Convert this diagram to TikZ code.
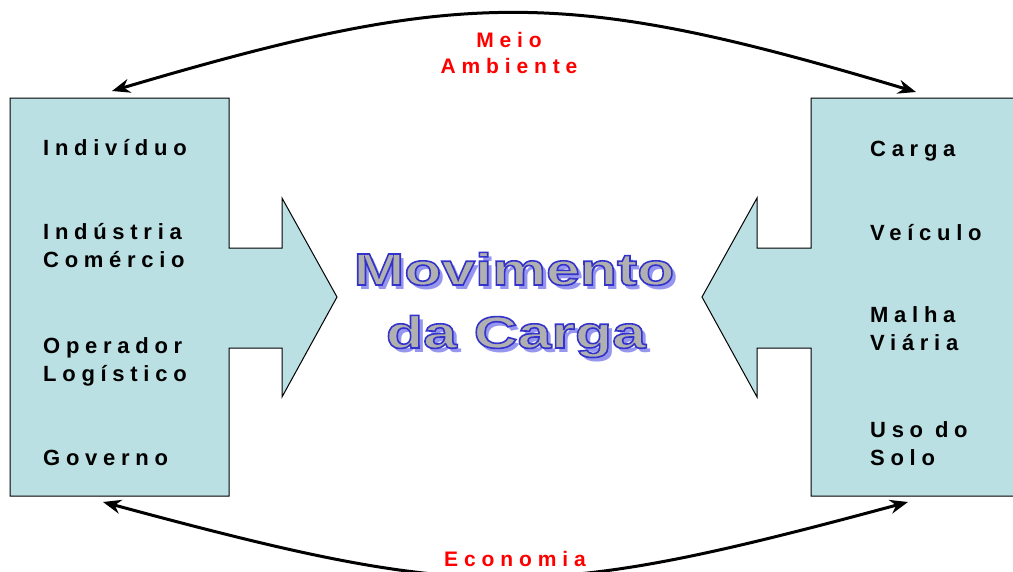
\documentclass[tikz,border=0pt]{standalone}
\usepackage{fontspec}
\usetikzlibrary{arrows.meta}
\newfontfamily\labfont{Liberation Sans}[LetterSpace=26]
\newfontfamily\redfont{Liberation Sans}[LetterSpace=28]
\newfontfamily\bigfont{Liberation Sans}[FakeStretch=1.35]
\definecolor{boxblue}{RGB}{187,224,227}
\definecolor{shadowblue}{RGB}{150,150,238}
\definecolor{biggray}{RGB}{176,176,176}
\newcommand{\outlined}[1]{\special{pdf:literal direct 2 Tr 1.6 w 0.2 0.2 0.8 RG}#1\special{pdf:literal direct 0 Tr}}
\begin{document}
\begin{tikzpicture}[x=1pt,y=-1pt,
  panel/.style={draw=black,line width=1pt,fill=boxblue},
  lab/.style={anchor=base west,align=left,inner sep=0pt,font=\labfont\bfseries\fontsize{22}{28}\selectfont},
  redlab/.style={anchor=base,align=center,inner sep=0pt,text=red,font=\redfont\bfseries\fontsize{21}{26}\selectfont},
  bigshadow/.style={anchor=base,inner sep=0pt,text=shadowblue,font=\bigfont\bfseries\fontsize{45}{54}\selectfont},
  bigtext/.style={anchor=base,inner sep=0pt,text=biggray,font=\bigfont\bfseries\fontsize{45}{54}\selectfont},
  link/.style={line width=3pt,{Stealth[length=18pt,width=14pt]}-{Stealth[length=18pt,width=14pt]}}]
\useasboundingbox (0,0) rectangle (1013,571);
\begin{scope}
\clip (0,0) rectangle (1013,571);
% left panel
\draw[panel] (10,98) -- (229,98) -- (229,248) -- (282,248) -- (282,198) -- (337,297)
  -- (282,397) -- (282,348) -- (229,348) -- (229,496) -- (10,496) -- cycle;
% right panel
\draw[panel] (1025,98) -- (811,98) -- (811,248) -- (757,248) -- (757,198) -- (702,297)
  -- (757,397) -- (757,348) -- (811,348) -- (811,496) -- (1025,496);
% left labels
\node[lab] (ind) at (43,155) {Indivíduo};
\node[lab] (indcom) at (43,267) {Indústria\\Comércio};
\node[lab] (oper) at (43,381) {Operador\\Logístico};
\node[lab] (gov) at (43,465) {Governo};
% right labels
\node[lab] (carga) at (870,156) {Carga};
\node[lab] (veic) at (870,240) {Veículo};
\node[lab] (malha) at (870,350) {Malha\\Viária};
\node[lab] (uso) at (870,465) {Uso do\\Solo};
% central title
\node[bigshadow] (mov-s) at (518,289) {Movimento};
\node[bigshadow] (carga-s) at (520,352) {da Carga};
\node[bigtext] (mov) at (514,285) {\outlined{Movimento}};
\node[bigtext] (dacarga) at (516,348) {\outlined{da Carga}};
% curved connectors
\coordinate (tl) at (112,91);
\coordinate (tr) at (916,92);
\coordinate (bl) at (103,502);
\coordinate (br) at (908,502);
\draw[link] (tl) .. controls (463,-13) and (565,-13) .. (tr);
\draw[link] (bl) .. controls (473,602) and (538,602) .. (br);
\node[redlab] (meio) at (509,73) {Meio\\Ambiente};
\node[redlab] (econ) at (515,566) {Economia};
\end{scope}
\end{tikzpicture}
\end{document}
